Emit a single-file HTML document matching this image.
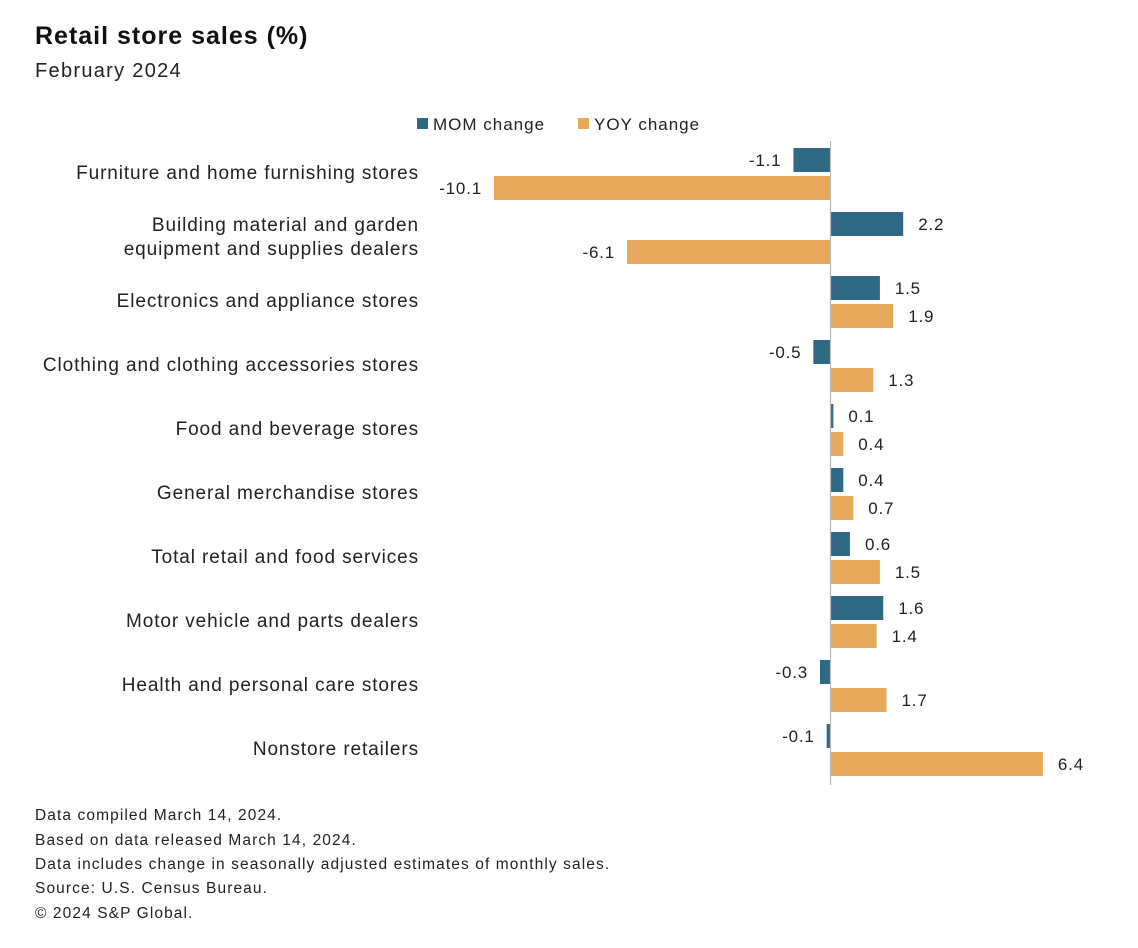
<!DOCTYPE html>
<html><head><meta charset="utf-8"><style>
body{margin:0;background:#fff;}
svg{display:block;font-family:"Liberation Sans",sans-serif;}
</style></head><body>
<svg width="1138" height="948" xmlns="http://www.w3.org/2000/svg">
<text x="35" y="44" font-size="25" font-weight="bold" letter-spacing="1" fill="#111">Retail store sales (%)</text>
<text x="35" y="77" font-size="20" letter-spacing="1.3" fill="#222">February 2024</text>
<g>
<rect x="417" y="118" width="11" height="11" fill="#2e6a84"/>
<text x="433" y="130" font-size="17" letter-spacing="1" fill="#222">MOM change</text>
<rect x="578" y="118" width="11" height="11" fill="#e6a85a"/>
<text x="594" y="130" font-size="17" letter-spacing="1" fill="#222">YOY change</text>
</g>
<g id="plot"></g>
<line x1="830.5" y1="141" x2="830.5" y2="785" stroke="#bbb" stroke-width="1.2"/>
<g font-size="15.5" letter-spacing="1.1" fill="#222">
<text x="35" y="820">Data compiled March 14, 2024.</text>
<text x="35" y="845">Based on data released March 14, 2024.</text>
<text x="35" y="869">Data includes change in seasonally adjusted estimates of monthly sales.</text>
<text x="35" y="893">Source: U.S. Census Bureau.</text>
<text x="35" y="918">© 2024 S&amp;P Global.</text>
</g>
</svg>
<script>
const categories=[["Furniture and home furnishing stores"],["Building material and garden","equipment and supplies dealers"],["Electronics and appliance stores"],["Clothing and clothing accessories stores"],["Food and beverage stores"],["General merchandise stores"],["Total retail and food services"],["Motor vehicle and parts dealers"],["Health and personal care stores"],["Nonstore retailers"]];
const momValues=[-1.1,2.2,1.5,-0.5,0.1,0.4,0.6,1.6,-0.3,-0.1];
const yoyValues=[-10.1,-6.1,1.9,1.3,0.4,0.7,1.5,1.4,1.7,6.4];
const NS="http://www.w3.org/2000/svg";
const g=document.getElementById('plot');
const x0=830,k=33.27;
function xs(v){return x0+v*k;}
function yg(i){return 148+i*64;}
function mk(tag,attrs){const e=document.createElementNS(NS,tag);for(const a in attrs)e.setAttribute(a,attrs[a]);g.appendChild(e);return e;}
function bar(v,y,color,name){
  const a=xs(v),x=Math.min(a,x0),w=Math.max(Math.abs(a-x0),1.5);
  const r=mk('rect',{x:x,y:y,width:w,height:24,fill:color});
  
  
  const t=mk('text',{y:y+18,'font-size':17,'letter-spacing':0.8,fill:'#222'});
  if(v>=0){t.setAttribute('x',a+15);}else{t.setAttribute('x',Math.min(a,x0-1.5)-12);t.setAttribute('text-anchor','end');}
  t.textContent=v.toFixed(1);
  
  
}
categories.forEach((c,i)=>{
  const y=yg(i);
  bar(momValues[i],y,'#2e6a84','mom');
  bar(yoyValues[i],y+28,'#e6a85a','yoy');
  const t=mk('text',{x:419,'text-anchor':'end','font-size':19,'letter-spacing':0.9,fill:'#222'});
  
  
  const base=y+31-(c.length-1)*12;
  c.forEach((line,j)=>{const s=document.createElementNS(NS,'tspan');s.setAttribute('x',419);s.setAttribute('y',base+j*24);s.textContent=line;t.appendChild(s);});
});
</script>
</body></html>
